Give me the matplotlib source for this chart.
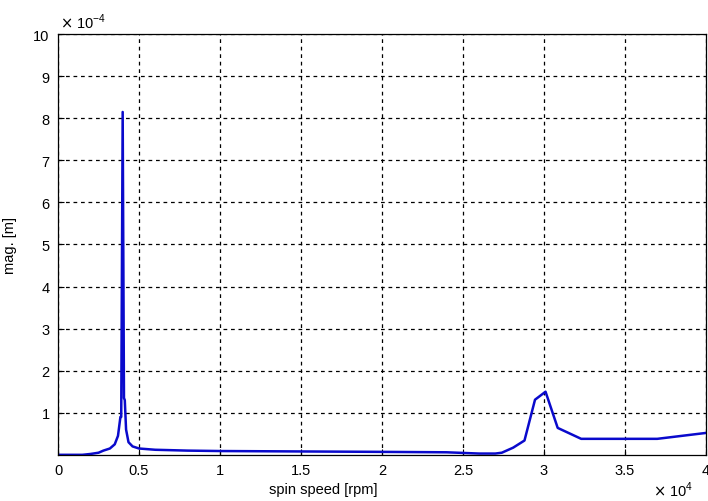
import matplotlib
matplotlib.use("Agg")
import matplotlib.pyplot as plt

# spin speed [rpm] and magnitude [x 1e-4 m]
rpm = [0, 1500, 2000, 2500, 2800, 3200, 3500, 3700, 3850, 3900, 3990, 4070,
       4120, 4200, 4350, 4600, 5000, 6000, 8000, 10000, 15000, 20000, 24000,
       26000, 27000, 27400, 28100, 28800, 29450, 30100, 30850, 32300, 37000, 40000]
mag = [0, 0, 0.02, 0.05, 0.1, 0.15, 0.25, 0.45, 0.9, 0.9, 8.15, 1.35,
       1.3, 0.6, 0.3, 0.2, 0.15, 0.12, 0.1, 0.09, 0.08, 0.07, 0.06,
       0.03, 0.03, 0.05, 0.17, 0.34, 1.31, 1.50, 0.64, 0.38, 0.38, 0.52]

xticks = [0, 5000, 10000, 15000, 20000, 25000, 30000, 35000, 40000]
xlabels = ["0", "0.5", "1", "1.5", "2", "2.5", "3", "3.5", "4"]
yticks = [1, 2, 3, 4, 5, 6, 7, 8, 9, 10]

plt.rcParams['font.family'] = ['Liberation Sans', 'DejaVu Sans']

fig = plt.figure(figsize=(7.08, 5.02), dpi=100)
ax = fig.add_axes([0.082, 0.092, 0.915, 0.838])

ax.plot(rpm, mag, color="#0a0acc", linewidth=1.8)

ax.set_xlim(0, 40000)
ax.set_ylim(0, 10)
ax.set_xticks(xticks)
ax.set_xticklabels(xlabels)
ax.set_yticks(yticks)
ax.set_yticklabels([str(v) for v in yticks])
ax.tick_params(direction="in", labelsize=10.5, length=4, pad=6)
ax.grid(True, color="black", linestyle=(0, (3, 3)), linewidth=0.9)

for s in ax.spines.values():
    s.set_linewidth(0.9)

ax.set_xlabel("spin speed [rpm]", fontsize=10.5)
ax.xaxis.set_label_coords(0.41, -0.064)
ax.set_ylabel("mag. [m]", fontsize=10.5, labelpad=12)

ax.text(0.003, 1.008, r"$\times$ 10$^{\mathregular{-4}}$", transform=ax.transAxes,
        fontsize=10.5, ha="left", va="bottom")
ax.text(0.918, -0.058, r"$\times$ 10$^{\mathregular{4}}$", transform=ax.transAxes,
        fontsize=10.5, ha="left", va="top")

fig.savefig("out.png", dpi=100)
